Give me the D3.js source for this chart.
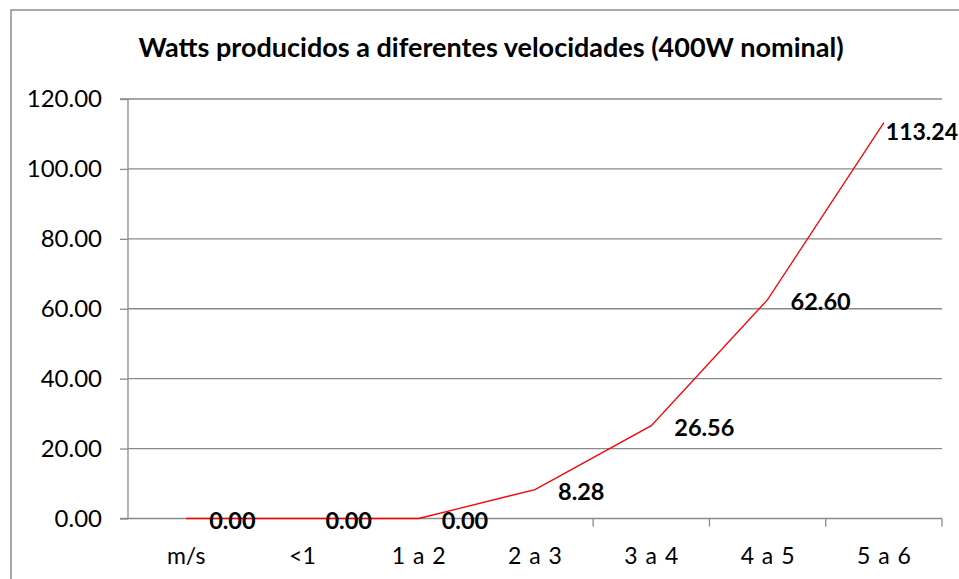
<!DOCTYPE html>
<html><head><meta charset="utf-8">
<script src="https://cdn.jsdelivr.net/npm/d3@7"></script>
<style>body{margin:0;background:#fff}svg{display:block}text{font-family:Lato,"Open Sans",sans-serif}</style>
</head><body>
<svg id="c" width="959" height="579"></svg>
<script>
const title = "Watts producidos a diferentes velocidades (400W nominal)";
const categories = ["m/s","<1","1 a 2","2 a 3","3 a 4","4 a 5","5 a 6"];
const values = [0.00, 0.00, 0.00, 8.28, 26.56, 62.60, 113.24];
const yTicks = [0,20,40,60,80,100,120];

const svg = d3.select("#c");
const L = 128, R = 942, T = 99, B = 518.5;
svg.append("rect").attr("x",11).attr("y",10).attr("width",1200).attr("height",1200)
  .attr("fill","#fff").attr("stroke","#8c8c8c").attr("stroke-width",1.5);

const x = d3.scaleBand().domain(categories).range([L,R]);
const y = d3.scaleLinear().domain([0,120]).range([B,T]);

// gridlines
svg.append("g").selectAll("line").data(yTicks.filter(d=>d>0)).join("line")
  .attr("x1",L).attr("x2",R).attr("y1",d=>y(d)).attr("y2",d=>y(d))
  .attr("stroke","#8a8a8a").attr("stroke-width",1.3);

// y axis
const ya = svg.append("g").attr("transform",`translate(${L},0)`)
  .call(d3.axisLeft(y).tickValues(yTicks).tickSize(8).tickPadding(18).tickFormat(d3.format(".2f")));
ya.select(".domain").attr("stroke","#8a8a8a").attr("stroke-width",1.3).attr("d",`M-8,${T}H0V${B}H-8`);
ya.selectAll(".tick line").attr("stroke","#8a8a8a").attr("stroke-width",1.3);
ya.selectAll(".tick text").attr("font-size",24).attr("fill","#000").attr("font-family","Lato");

// x axis
const xa = svg.append("g").attr("transform",`translate(0,${B})`)
  .call(d3.axisBottom(x).tickSize(0).tickPadding(29));
xa.select(".domain").attr("stroke","#8a8a8a").attr("stroke-width",1.3).attr("d",`M${L},0H${R}`);
xa.selectAll(".tick text").attr("font-size",23).attr("fill","#000").attr("font-family","Lato").style("word-spacing","2px");
// category boundary ticks
svg.append("g").selectAll("line").data(categories.slice(1).concat(["__end"])).join("line")
  .attr("x1",d=>d==="__end"?R:x(d)).attr("x2",d=>d==="__end"?R:x(d))
  .attr("y1",B).attr("y2",B+8).attr("stroke","#8a8a8a").attr("stroke-width",1.3);

// line
const pts = categories.map((c,i)=>({c, v:values[i]}));
const line = d3.line().x(d=>x(d.c)+x.bandwidth()/2).y(d=>y(d.v));
svg.append("path").datum(pts).attr("d",line).attr("fill","none").attr("stroke","#ff0000").attr("stroke-width",1.3);

// data labels
svg.append("g").selectAll("text").data(pts).join("text")
  .attr("x",(d,i)=>x(d.c)+x.bandwidth()/2 + (i===pts.length-1?2:23))
  .attr("y",(d,i)=>y(d.v) + (i===pts.length-1?9:2))
  .attr("dy","0.35em")
  .attr("font-size",(d,i)=>i===pts.length-1?23:23.5).attr("font-weight","bold").attr("fill","#000")
  .text(d=>d3.format(".2f")(d.v));

// title
svg.append("text").attr("x",491).attr("y",48).attr("dy","0.35em").attr("text-anchor","middle")
  .attr("font-size",27).attr("font-weight","bold").attr("fill","#000").text(title);
</script>
</body></html>
